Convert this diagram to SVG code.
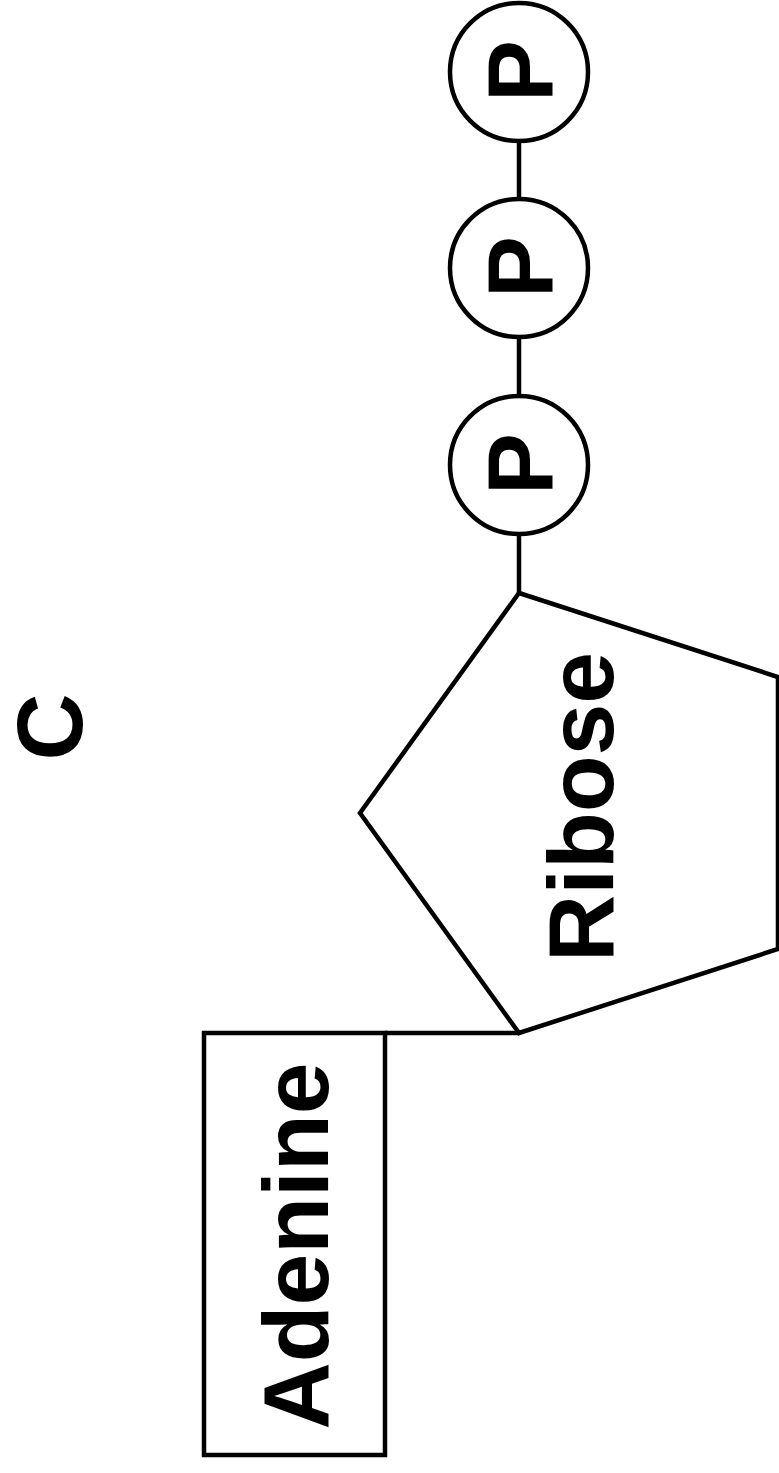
<svg xmlns="http://www.w3.org/2000/svg" width="779" height="1473" viewBox="0 0 779 1473">
<style>
.s{fill:#fff;stroke:#000;stroke-width:4.5}
.c{stroke:#000;stroke-width:4.5;fill:none}
.t{font-family:"Liberation Sans",Arial,sans-serif;font-weight:bold;font-size:93px;fill:#000;text-anchor:middle}
</style>
<rect width="779" height="1473" fill="#fff"/>
<g id="connectors">
<line class="c" x1="519" y1="140" x2="519" y2="200"/>
<line class="c" x1="519" y1="336" x2="519" y2="397"/>
<line class="c" x1="519" y1="533" x2="519" y2="593"/>
<line class="c" x1="385" y1="1033" x2="519" y2="1033"/>
</g>
<g id="label-c"><text class="t" transform="translate(82,727) rotate(-90)">C</text></g>
<g id="p1"><circle class="s" cx="519" cy="72" r="69"/><text class="t" transform="translate(553,71) rotate(-90)">P</text></g>
<g id="p2"><circle class="s" cx="519" cy="268" r="69"/><text class="t" transform="translate(553,267) rotate(-90)">P</text></g>
<g id="p3"><circle class="s" cx="519" cy="465" r="69"/><text class="t" transform="translate(553,464) rotate(-90)">P</text></g>
<g id="ribose"><polygon class="s" points="519,593 778,677 778,949 519,1033 360,813"/><text class="t" transform="translate(613,807) rotate(-90)">Ribose</text></g>
<g id="adenine"><rect class="s" x="204" y="1033" width="181" height="422"/><text class="t" transform="translate(328,1246) rotate(-90)">Adenine</text></g>
</svg>
